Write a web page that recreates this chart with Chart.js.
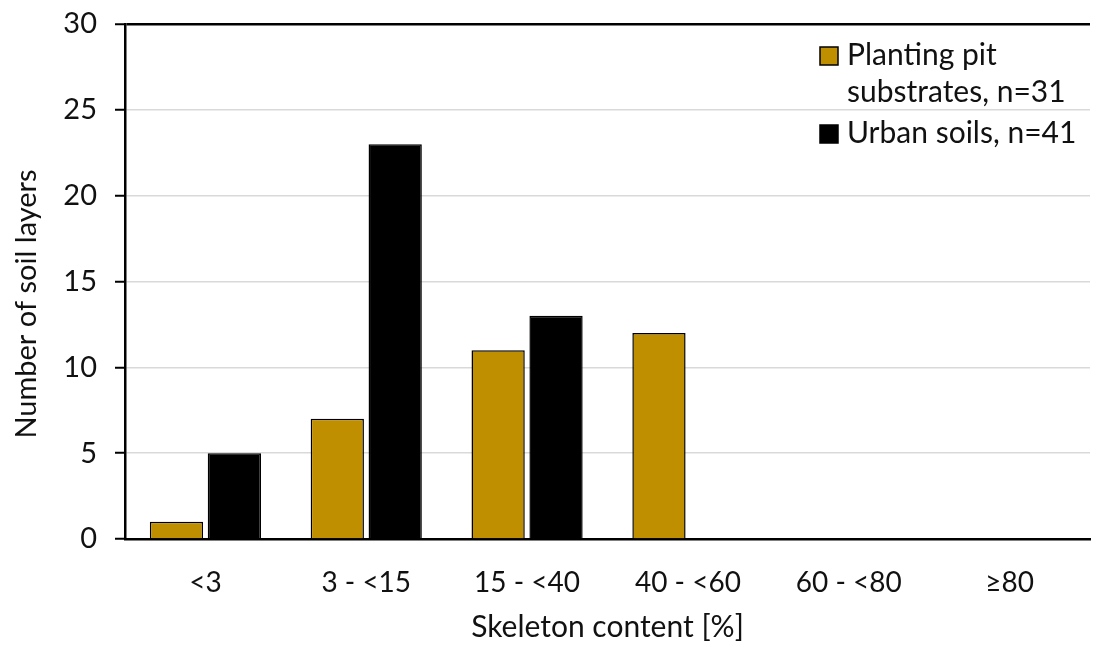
<!DOCTYPE html>
<html>
<head>
<meta charset="utf-8">
<script src="https://cdn.jsdelivr.net/npm/chart.js@4/dist/chart.umd.min.js"></script>
<style>
    body { margin: 0; background: #fff; }
    #skeletonChart { display: block; }
</style>
</head>
<body>
<canvas id="skeletonChart" width="1097" height="645"></canvas>
<script>
const categories = ['<3', '3 - <15', '15 - <40', '40 - <60', '60 - <80', '\u226580'];
const plantingPit = [1, 7, 11, 12, 0, 0];
const urbanSoils = [5, 23, 13, 0, 0, 0];
const seriesNames = ['Planting pit substrates, n=31', 'Urban soils, n=41'];
const legendLines = [['Planting pit', 'substrates, n=31'], ['Urban soils, n=41']];
const yTitle = 'Number of soil layers';
const xTitle = 'Skeleton content [%]';

const GOLD = '#BF8F00';
const FONT = 'Lato, "Open Sans", sans-serif';

// legend in the upper right corner, first entry wraps over two lines
const boxLegend = {
    id: 'boxLegend',
    afterDraw(chart) {
        const ctx = chart.ctx;
        const colors = [GOLD, '#000'];
        const rows = [[65, 102], [143]];
        ctx.save();
        ctx.font = '30px ' + FONT;
        ctx.textBaseline = 'alphabetic';
        ctx.textAlign = 'left';
        legendLines.forEach((lines, i) => {
            const base = rows[i][0];
            ctx.fillStyle = colors[i];
            ctx.fillRect(820, base - 18, 18, 18);
            ctx.strokeStyle = '#000';
            ctx.lineWidth = 1.5;
            ctx.strokeRect(820, base - 18, 18, 18);
            ctx.fillStyle = '#111';
            lines.forEach((t, j) => ctx.fillText(t, 847, rows[i][j]));
        });
        ctx.restore();
    }
};

// rotated y axis title
const yAxisTitle = {
    id: 'yAxisTitle',
    afterDraw(chart) {
        const ctx = chart.ctx;
        ctx.save();
        ctx.translate(27, 304);
        ctx.rotate(-Math.PI / 2);
        ctx.font = '29px ' + FONT;
        ctx.fillStyle = '#111';
        ctx.textAlign = 'center';
        ctx.textBaseline = 'middle';
        ctx.fillText(yTitle, 0, 0);
        ctx.restore();
    }
};

const ctx = document.getElementById('skeletonChart').getContext('2d');
const chart = new Chart(ctx, {
    type: 'bar',
    data: {
        labels: categories,
        datasets: [{
            label: seriesNames[0],
            data: plantingPit,
            backgroundColor: GOLD,
            borderColor: '#000',
            borderWidth: 1.5
        }, {
            label: seriesNames[1],
            data: urbanSoils,
            backgroundColor: '#000',
            borderColor: '#000',
            borderWidth: 1.5
        }]
    },
    options: {
        responsive: false,
        animation: false,
        categoryPercentage: 0.72,
        barPercentage: 0.92,
        layout: {
            padding: { top: 24, right: 7, left: 0, bottom: 0 }
        },
        plugins: {
            legend: { display: false },
            tooltip: { enabled: false }
        },
        scales: {
            x: {
                grid: {
                    display: true,
                    drawOnChartArea: false,
                    drawTicks: false
                },
                border: { display: true, color: '#000', width: 2.5 },
                ticks: {
                    color: '#111',
                    padding: 27,
                    font: { family: FONT, size: 28 }
                },
                title: {
                    display: true,
                    text: xTitle,
                    color: '#111',
                    padding: { top: 12, bottom: 0 },
                    font: { family: FONT, size: 30 }
                },
                afterFit(scale) {
                    scale.height = 106;
                    scale.paddingLeft = 0;
                    scale.paddingRight = 0;
                }
            },
            y: {
                min: 0,
                max: 30,
                grid: {
                    color: c => c.tick && c.tick.value === 30 ? '#000' : '#d9d9d9',
                    lineWidth: c => c.tick && c.tick.value === 30 ? 2.5 : 1.5,
                    tickColor: '#000',
                    tickLength: 10,
                    tickWidth: 2
                },
                border: { display: true, color: '#000', width: 2.5 },
                ticks: {
                    stepSize: 5,
                    color: '#111',
                    padding: 18,
                    font: { family: FONT, size: 29 }
                },
                afterFit(scale) {
                    scale.width = 125;
                    scale.paddingTop = 0;
                    scale.paddingBottom = 0;
                }
            }
        }
    },
    plugins: [boxLegend, yAxisTitle]
});
</script>
</body>
</html>
